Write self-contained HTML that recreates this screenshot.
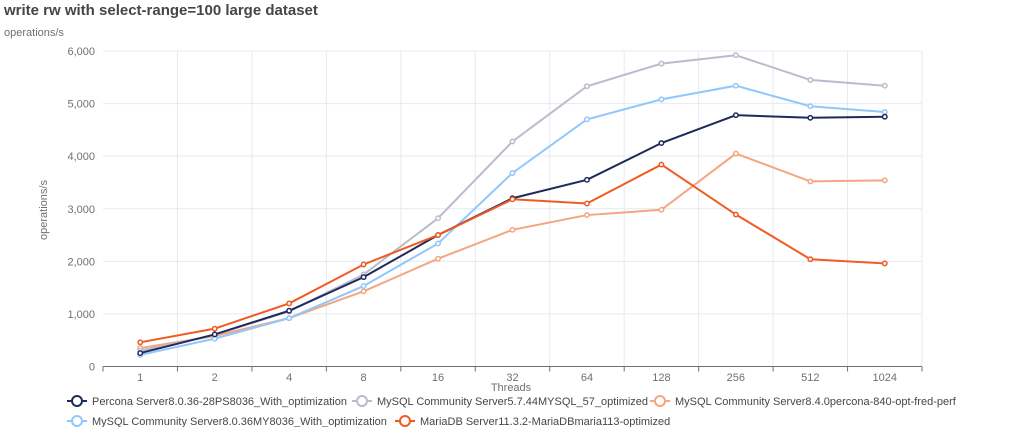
<!DOCTYPE html>
<html><head><meta charset="utf-8"><style>
body{margin:0;background:#fff;width:1024px;height:427px;overflow:hidden}
svg text{font-family:"Liberation Sans",sans-serif}
</style></head><body>
<svg width="1024" height="427" viewBox="0 0 1024 427" xmlns="http://www.w3.org/2000/svg">
<text x="4" y="15" font-size="15" font-weight="bold" fill="#464646">write rw with select-range=100 large dataset</text>
<text x="4" y="36" font-size="11" fill="#6e7079">operations/s</text>
<g id="grid" stroke="#e6e9f2" stroke-width="1"></g>
<g id="ylab" font-size="11" fill="#6e7079" text-anchor="end"></g>
<g id="xlab" font-size="11" fill="#6e7079" text-anchor="middle"></g>
<line x1="103" y1="366.5" x2="922" y2="366.5" stroke="#6e7079"/>
<g id="ticks" stroke="#6e7079"></g>
<text transform="translate(47,210) rotate(-90)" font-size="11" fill="#6e7079" text-anchor="middle">operations/s</text>
<text x="511" y="391" font-size="11" fill="#6e7079" text-anchor="middle">Threads</text>
<g id="series"></g>
<g id="legend" font-size="11" fill="#464646"></g>
</svg>
<script>
const ns="http://www.w3.org/2000/svg";
function el(p,t,a,txt){const e=document.createElementNS(ns,t);for(const k in a)e.setAttribute(k,a[k]);if(txt)e.textContent=txt;document.getElementById(p).appendChild(e);return e;}
const x0=103,x1=922,n=11,w=(x1-x0)/n,yb=366.5,yt=51;
const Y=v=>yb-(yb-yt)*v/6000, X=i=>x0+w*(i+0.5);
for(let i=0;i<=6;i++){const y=Y(i*1000);if(i>0)el("grid","line",{x1:x0,x2:x1,y1:y,y2:y});el("ylab","text",{x:95,y:y+4},i==0?"0":(i+",000"));}
for(let i=0;i<=n;i++){const x=x0+w*i;if(i>0)el("grid","line",{x1:x,x2:x,y1:yt,y2:yb});el("ticks","line",{x1:x,x2:x,y1:yb,y2:yb+5});}
["1","2","4","8","16","32","64","128","256","512","1024"].forEach((l,i)=>el("xlab","text",{x:X(i),y:381},l));
const S=[
["#f4a582",[350,580,920,1430,2050,2600,2880,2980,4050,3520,3540]],
["#b9bccb",[300,600,1050,1750,2820,4280,5330,5760,5920,5450,5340]],
["#91c7fb",[220,530,920,1530,2340,3680,4700,5080,5340,4950,4840]],
["#1f2a5c",[255,610,1060,1700,2500,3200,3550,4250,4780,4730,4750]],
["#f05a23",[460,720,1200,1940,2500,3180,3100,3840,2890,2040,1960]]];
S.forEach(([c,d])=>{el("series","polyline",{points:d.map((v,i)=>X(i)+","+Y(v)).join(" "),fill:"none",stroke:c,"stroke-width":2});d.forEach((v,i)=>el("series","circle",{cx:X(i),cy:Y(v),r:2.2,fill:"#fff",stroke:c,"stroke-width":1.5}));});
const L=[["#1f2a5c","Percona Server8.0.36-28PS8036_With_optimization",67,401],["#b9bccb","MySQL Community Server5.7.44MYSQL_57_optimized",352,401],["#f4a582","MySQL Community Server8.4.0percona-840-opt-fred-perf",650,401],["#91c7fb","MySQL Community Server8.0.36MY8036_With_optimization",67,421],["#f05a23","MariaDB Server11.3.2-MariaDBmaria113-optimized",395,421]];
L.forEach(([c,t,x,y])=>{el("legend","line",{x1:x,x2:x+20,y1:y,y2:y,stroke:c,"stroke-width":2});el("legend","circle",{cx:x+10,cy:y,r:5,fill:"#fff",stroke:c,"stroke-width":2});el("legend","text",{x:x+25,y:y+4},t);});
</script>
</body></html>
